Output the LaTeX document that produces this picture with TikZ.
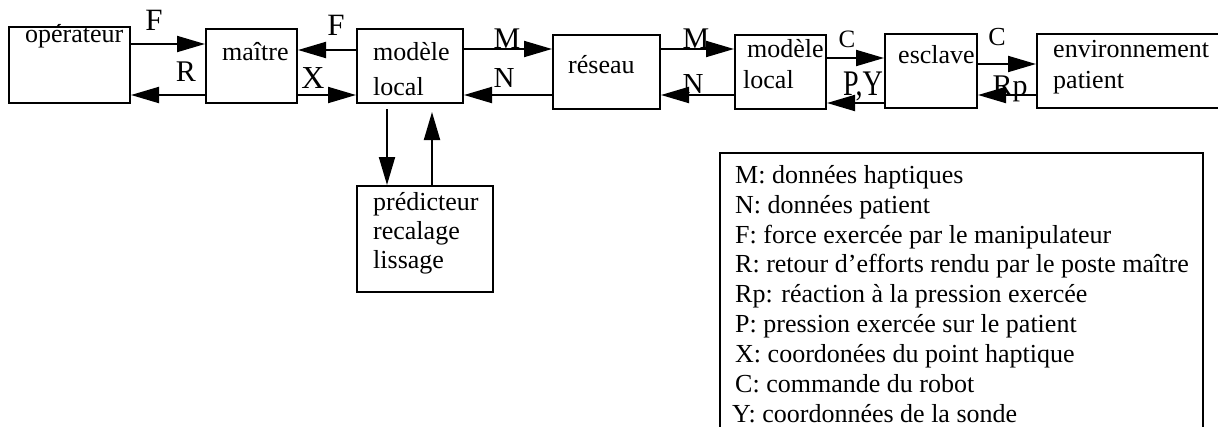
\documentclass[tikz,border=0pt]{standalone}
\usepackage{fontspec}
\setmainfont{Liberation Serif}
\usetikzlibrary{arrows.meta}
\begin{document}
\begin{tikzpicture}[x=1pt,y=-1pt,
  box/.style={draw,line width=2pt,inner sep=0pt,rectangle},
  txt/.style={anchor=base west,inner sep=0pt,font=\fontsize{26}{26.6}\selectfont},
  lab/.style={anchor=base,inner sep=0pt,font=\fontsize{30}{30}\selectfont},
  arr/.style={line width=2pt,-{Triangle[length=28pt,width=16pt]}},
  ln/.style={line width=2pt}]
\useasboundingbox (0,0) rectangle (1218,426);
\clip (0,0) rectangle (1218,426);
% boxes
\node[box,minimum width=121pt,minimum height=76pt] (op) at (69.5,65) {};
\node[box,minimum width=91pt,minimum height=74pt] (ma) at (251.5,66) {};
\node[box,minimum width=106pt,minimum height=74pt] (ml1) at (410,66) {};
\node[box,minimum width=107pt,minimum height=74pt] (re) at (606.5,72) {};
\node[box,minimum width=91pt,minimum height=74pt] (ml2) at (780.5,72) {};
\node[box,minimum width=92pt,minimum height=74pt] (es) at (931,71) {};
\node[box,minimum width=213pt,minimum height=74pt] (env) at (1143.5,71) {};
\node[box,minimum width=136pt,minimum height=106pt] (pr) at (425,239) {};
\node[box,minimum width=483pt,minimum height=300pt] (leg) at (961.5,303) {};
% box texts
\node[txt] (top) at (25,42) {opérateur};
\node[txt] (tma) at (222,60) {maître};
\node[txt] (tml1a) at (373,60) {modèle};
\node[txt] (tml1b) at (373,95) {local};
\node[txt] (tre) at (568,73) {réseau};
\node[txt] (tml2a) at (747,57) {modèle};
\node[txt] (tml2b) at (743,88) {local};
\node[txt] (tes) at (898,63) {esclave};
\node[txt] (tenva) at (1053,57) {environnement};
\node[txt] (tenvb) at (1053,88) {patient};
\node[txt] (tpra) at (373,210) {prédicteur};
\node[txt] (tprb) at (373,239) {recalage};
\node[txt] (tprc) at (373,268) {lissage};
% legend
\node[txt,anchor=north west,align=left,font=\fontsize{26}{29.9}\selectfont] (tleg) at (735,165) {%
M: données haptiques\\
N: données patient\\
F: force exercée par le manipulateur\\
R: retour d'efforts rendu par le poste maître\\
Rp: réaction à la pression exercée\\
P: pression exercée sur le patient\\
X: coordonées du point haptique\\
C: commande du robot\\
\hspace*{-3pt}Y: coordonnées de la sonde};
% arrows
\draw[arr] (op.east |- 0,44) -- (ma.west |- 0,44);
\draw[arr] (ma.west |- 0,95) -- (op.east |- 0,95);
\draw[arr] (ml1.west |- 0,50) -- (ma.east |- 0,50);
\draw[arr] (ma.east |- 0,95) -- (ml1.west |- 0,95);
\draw[arr] (ml1.east |- 0,49) -- (re.west |- 0,49);
\draw[arr] (re.west |- 0,95) -- (ml1.east |- 0,95);
\draw[arr] (re.east |- 0,49) -- (ml2.west |- 0,49);
\draw[arr] (ml2.west |- 0,95) -- (re.east |- 0,95);
\draw[arr] (ml2.east |- 0,58) -- (es.west |- 0,58);
\draw[arr] (es.west |- 0,103) -- (ml2.east |- 0,103);
\draw[arr] (es.east |- 0,64) -- (env.west |- 0,64);
\draw[arr] (env.west |- 0,95) -- (es.east |- 0,95);
\coordinate (d1) at (387,109);
\coordinate (u1) at (432,112);
\draw[arr] (d1) -- (pr.north -| d1);
\draw[arr] (pr.north -| u1) -- (u1);
% labels
\node[lab,font=\fontsize{31}{31}\selectfont] (lF1) at (154,30) {F};
\node[lab,font=\fontsize{31}{31}\selectfont] (lF2) at (336,35) {F};
\node[lab,font=\fontsize{30}{30}\selectfont] (lR) at (186,81) {R};
\node[lab,font=\fontsize{32}{32}\selectfont] (lX) at (313,88) {X};
\node[lab,font=\fontsize{30}{30}\selectfont] (lM1) at (507,48) {M};
\node[lab,font=\fontsize{29}{29}\selectfont] (lN1) at (504,87) {N};
\node[lab,font=\fontsize{30}{30}\selectfont] (lM2) at (696,48) {M};
\node[lab,font=\fontsize{29}{29}\selectfont] (lN2) at (693,93) {N};
\node[lab,font=\fontsize{25}{25}\selectfont] (lC1) at (847,47) {C};
\node[lab,font=\fontsize{26}{26}\selectfont] (lC2) at (997,45) {C};
\node[lab,font=\fontsize{36}{36}\selectfont,xscale=0.78] (lPY) at (863,95) {P,Y};
\node[lab,font=\fontsize{30}{30}\selectfont] (lRp) at (1010,95) {Rp};
\end{tikzpicture}
\end{document}
